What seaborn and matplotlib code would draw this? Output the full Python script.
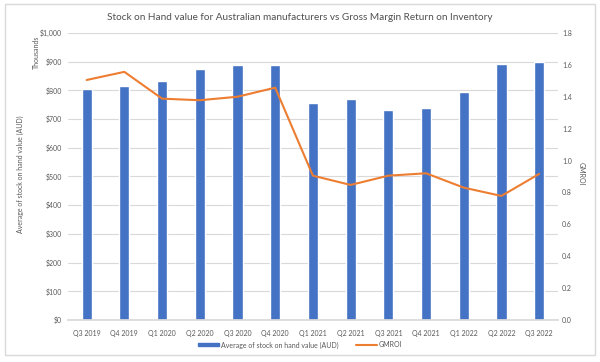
import matplotlib
matplotlib.use('Agg')
import matplotlib.pyplot as plt
import seaborn as sns
import pandas as pd
from matplotlib.patches import Rectangle
from matplotlib.lines import Line2D
from matplotlib.ticker import FuncFormatter, MultipleLocator

quarters = ['Q3 2019', 'Q4 2019', 'Q1 2020', 'Q2 2020', 'Q3 2020', 'Q4 2020',
            'Q1 2021', 'Q2 2021', 'Q3 2021', 'Q4 2021', 'Q1 2022', 'Q2 2022', 'Q3 2022']
stock_thousands = [804, 815, 832, 873, 887, 887, 757, 771, 732, 738, 793, 893, 899]
gmroi = [1.505, 1.556, 1.388, 1.378, 1.40, 1.457, 0.905, 0.847, 0.905, 0.92, 0.83, 0.778, 0.916]

df = pd.DataFrame({'quarter': quarters, 'stock': stock_thousands, 'gmroi': gmroi})

sns.set_theme(style='white')
plt.rcParams['font.family'] = ['Lato', 'DejaVu Sans']

BLUE = '#4472C4'
ORANGE = '#ED7D31'
GREY = '#595959'
GRID = '#D9D9D9'

fig = plt.figure(figsize=(6, 3.62), dpi=100)
ax = fig.add_axes([0.113, 0.116, 0.817, 0.793])

# bars: stock on hand (thousands AUD)
sns.barplot(data=df, x='quarter', y='stock', color=BLUE, width=0.27,
            saturation=1, ax=ax, zorder=2)
ax.set_ylim(0, 1000)
ax.yaxis.set_major_locator(MultipleLocator(100))
ax.yaxis.set_major_formatter(FuncFormatter(lambda v, p: f'${v:,.0f}'))
ax.grid(axis='y', color=GRID, linewidth=0.8, zorder=0)
ax.set_axisbelow(True)
ax.set_xlabel('')
ax.set_ylabel('')
for s in ['top', 'right', 'left']:
    ax.spines[s].set_visible(False)
ax.spines['bottom'].set_color(GRID)
ax.tick_params(axis='x', labelsize=5, colors=GREY, length=0, pad=7)
ax.tick_params(axis='y', labelsize=5, colors=GREY, length=0, pad=4)

# line: GMROI on secondary axis
ax2 = ax.twinx()
sns.lineplot(data=df, x='quarter', y='gmroi', color=ORANGE, linewidth=1.5,
             ax=ax2, zorder=3)
ax2.set_ylim(0, 1.8)
ax2.yaxis.set_major_locator(MultipleLocator(0.2))
ax2.yaxis.set_major_formatter(FuncFormatter(lambda v, p: f'{v:.1f}'))
ax2.set_xlim(-0.5, len(quarters) - 0.5)
ax2.set_xlabel('')
ax2.set_ylabel('')
for s in ['top', 'right', 'left', 'bottom']:
    ax2.spines[s].set_visible(False)
ax2.tick_params(axis='y', labelsize=5, colors=GREY, length=0, pad=3)

fig.text(0.5, 0.953, 'Stock on Hand value for Australian manufacturers vs Gross Margin Return on Inventory',
         ha='center', va='center', fontsize=7.2, color='#505050')
fig.text(0.034, 0.52, 'Average of stock on hand value (AUD)', rotation=90,
         ha='center', va='center', fontsize=5, color=GREY)
fig.text(0.06, 0.856, 'Thousands', rotation=90, ha='center', va='center',
         fontsize=5, color=GREY)
fig.text(0.968, 0.52, 'GMROI', rotation=-90, ha='center', va='center',
         fontsize=5, color=GREY)

handles = [Rectangle((0, 0), 1, 1, color=BLUE),
           Line2D([0], [0], color=ORANGE, linewidth=1.5)]
fig.legend(handles, ['Average of stock on hand value (AUD)', 'GMROI'],
           loc='center', bbox_to_anchor=(0.5, 0.047), ncol=2, frameon=False,
           fontsize=5, labelcolor=GREY, handlelength=3, handleheight=0.3,
           columnspacing=2.5, handletextpad=0.3)

fig.add_artist(Rectangle((0.008, 0.02), 0.984, 0.968, transform=fig.transFigure,
                         fill=False, edgecolor='#D9D9D9', linewidth=1))

fig.savefig('out.png', dpi=100)
